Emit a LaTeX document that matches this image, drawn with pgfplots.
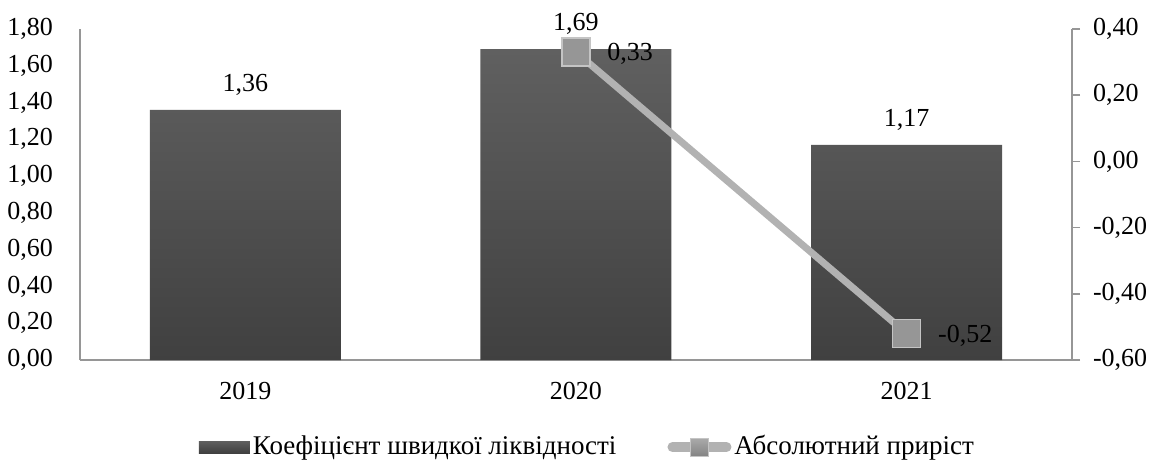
\documentclass[border=0pt]{standalone}
\usepackage{pgfplots}
\pgfplotsset{compat=1.18}
\usepackage{fontspec}
\setmainfont{Liberation Serif}
\definecolor{bartop}{RGB}{96,96,96}
\definecolor{barbot}{RGB}{64,64,64}
\definecolor{linec}{RGB}{178,178,178}
\definecolor{marktop}{RGB}{170,170,170}
\definecolor{markbot}{RGB}{132,132,132}
\definecolor{markc}{RGB}{150,150,150}
\definecolor{markb}{RGB}{196,196,196}
\definecolor{axisc}{RGB}{150,150,150}
\pgfplotsset{/pgf/number format/.cd, fixed, fixed zerofill, precision=2, use comma, assume math mode=true}
\begin{document}
\fontsize{13}{15.5}\selectfont
\begin{tikzpicture}
\useasboundingbox (-40pt,-51pt) rectangle (542pt,180pt);
\begin{axis}[
  at={(0,0)}, anchor=south west, scale only axis,
  width=496pt, height=165.5pt,
  xmin=-0.5, xmax=2.5, ymin=0, ymax=1.8,
  xtick={0,1,2}, xticklabels={2019,2020,2021},
  ytick={0,0.2,0.4,0.6,0.8,1.0,1.2,1.4,1.6,1.8},
  axis y line*=left, axis x line*=bottom,
  axis line style={axisc,-,line width=0.8pt},
  major tick length=0pt,
  yticklabel style={xshift=-9pt},
  xticklabel style={yshift=-6.5pt},
  legend style={draw=none, fill=none, at={(0.512,-0.263)}, anchor=center,
    legend columns=2, /tikz/every even column/.append style={column sep=24pt},
    font=\fontsize{13.5}{16}\selectfont,
    nodes={inner xsep=1.5pt}},
  legend cell align=left,
]
\addplot[ybar, bar width=95.5pt, draw=none, top color=bartop, bottom color=barbot,
  nodes near coords,
  every node near coord/.append style={anchor=center, yshift=12.5pt, text=black},
  legend image code/.code={\fill[top color=bartop,bottom color=barbot] (0pt,-3pt) rectangle (25.5pt,3pt);}
] coordinates {(0,1.36) (1,1.69) (2,1.17)};
\addlegendentry{Коефіцієнт швидкої ліквідності}
\addlegendimage{legend image code/.code={
  \draw[linec, line width=5pt, line cap=round] (1.5pt,0pt) -- (28.5pt,0pt);
  \shade[top color=marktop, bottom color=markbot, draw=markb, line width=0.5pt] (10.5pt,-4.5pt) rectangle (19.5pt,4.5pt);
}}
\addlegendentry{Абсолютний приріст}
\end{axis}
\begin{axis}[
  at={(0,0)}, anchor=south west, scale only axis,
  width=496pt, height=165.5pt,
  xmin=-0.5, xmax=2.5, ymin=-0.6, ymax=0.4,
  ytick={-0.6,-0.4,-0.2,0,0.2,0.4},
  axis x line=none, axis y line*=right,
  axis line style={axisc,-,line width=0.8pt},
  tick align=outside, major tick length=4pt,
  ytick style={axisc, line width=0.8pt},
  yticklabel style={xshift=2pt},
]
\addplot[linec, line width=3.5pt, mark=square*, mark size=7pt,
  mark options={fill=markc, draw=markb, line width=0.8pt},
  nodes near coords,
  every node near coord/.append style={anchor=west, xshift=11pt, yshift=-1pt, text=black}
] coordinates {(1,0.33) (2,-0.52)};
\end{axis}
\end{tikzpicture}
\end{document}
